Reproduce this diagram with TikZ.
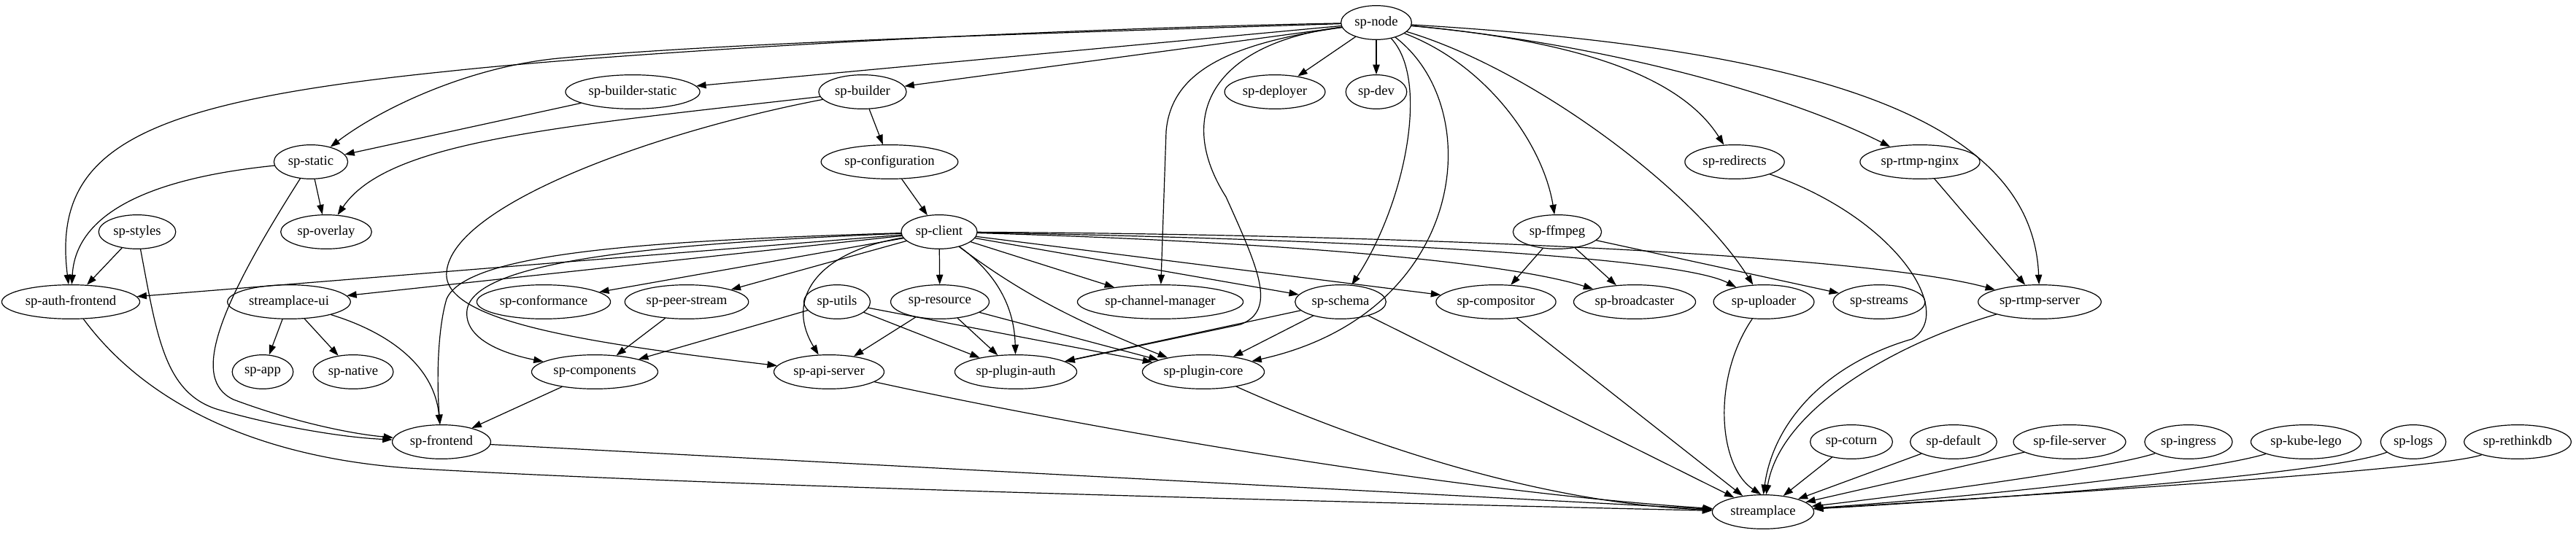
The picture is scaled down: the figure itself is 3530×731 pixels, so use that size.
\documentclass[tikz,border=0pt]{standalone}
\usepackage{fontspec}
\setmainfont{Liberation Serif}
\usetikzlibrary{arrows.meta,shapes.geometric}

\begin{document}
\begin{tikzpicture}[x=.75pt,y=-.75pt,line cap=round,line join=round,
  pkg/.style={draw,ellipse,line width=.9pt,inner xsep=3.5pt,minimum height=35pt,font=\fontsize{14}{16}\selectfont},
  dep/.style={line width=.9pt,-{Triangle[length=10pt,width=7pt]}}]
  \useasboundingbox (0,0) rectangle (3530,731);
  \node[pkg] (spnode) at (1886,31) {sp-node};
  \node[pkg] (builderstatic) at (867,126) {sp-builder-static}; \node[pkg] (builder) at (1182,126) {sp-builder};
  \node[pkg] (deployer) at (1747,126) {sp-deployer}; \node[pkg] (dev) at (1886,126) {sp-dev};
  \node[pkg] (static) at (426,222) {sp-static}; \node[pkg] (config) at (1219,222) {sp-configuration};
  \node[pkg] (redirects) at (2377,222) {sp-redirects}; \node[pkg] (nginx) at (2631,222) {sp-rtmp-nginx};
  \node[pkg] (styles) at (188,318) {sp-styles}; \node[pkg] (overlay) at (447,318) {sp-overlay};
  \node[pkg] (client) at (1287,318) {sp-client}; \node[pkg] (ffmpeg) at (2134,318) {sp-ffmpeg};
  \node[pkg] (authfe) at (97,414) {sp-auth-frontend}; \node[pkg] (ui) at (396,414) {streamplace-ui};
  \node[pkg] (conformance) at (745,414) {sp-conformance}; \node[pkg] (peer) at (941,414) {sp-peer-stream};
  \node[pkg] (utils) at (1147,414) {sp-utils}; \node[pkg] (resource) at (1288,414) {sp-resource};
  \node[pkg] (chanmgr) at (1590,414) {sp-channel-manager}; \node[pkg] (schema) at (1837,414) {sp-schema};
  \node[pkg] (compositor) at (2050,414) {sp-compositor}; \node[pkg] (broadcaster) at (2240,414) {sp-broadcaster};
  \node[pkg] (uploader) at (2417,414) {sp-uploader}; \node[pkg] (streams) at (2575,414) {sp-streams};
  \node[pkg] (rtmp) at (2795,414) {sp-rtmp-server};
  \node[pkg] (app) at (360,510) {sp-app}; \node[pkg] (native) at (484,510) {sp-native};
  \node[pkg] (components) at (815,510) {sp-components}; \node[pkg] (api) at (1136,510) {sp-api-server};
  \node[pkg] (pauth) at (1392,510) {sp-plugin-auth}; \node[pkg] (pcore) at (1649,510) {sp-plugin-core};
  \node[pkg] (frontend) at (605,606) {sp-frontend};
  \node[pkg] (coturn) at (2537,606) {sp-coturn}; \node[pkg] (defaults) at (2677,606) {sp-default};
  \node[pkg] (files) at (2836,606) {sp-file-server}; \node[pkg] (ingress) at (2999,606) {sp-ingress};
  \node[pkg] (kube) at (3160,606) {sp-kube-lego}; \node[pkg] (logs) at (3307,606) {sp-logs};
  \node[pkg] (rethink) at (3450,606) {sp-rethinkdb};
  \node[pkg] (streamplace) at (2416,702) {streamplace};

  \draw[dep] (spnode) .. controls (1400,40) and (850,72) .. (612,98) .. controls (200,140) and (70,200) .. (authfe);
  \draw[dep] (spnode) .. controls (1450,45) and (1000,58) .. (765,80) .. controls (640,92) and (520,150) .. (static);
  \draw[dep] (spnode) -- (builderstatic); \draw[dep] (spnode) -- (builder);
  \draw[dep] (spnode) -- (deployer); \draw[dep] (spnode) -- (dev);
  \draw[dep] (spnode) .. controls (1680,60) and (1605,100) .. (1598,180) -- (chanmgr);
  \draw[dep] (spnode) .. controls (1660,60) and (1610,160) .. (1680,270) .. controls (1725,370) and (1750,425) .. (1700,445) -- (pauth);
  \draw[dep] (spnode) .. controls (1960,110) and (1925,280) .. (schema);
  \draw[dep] (spnode) .. controls (2040,150) and (2010,430) .. (pcore);
  \draw[dep] (spnode) .. controls (2040,90) and (2115,200) .. (ffmpeg);
  \draw[dep] (spnode) .. controls (2100,95) and (2320,260) .. (uploader);
  \draw[dep] (spnode) .. controls (2150,55) and (2300,100) .. (redirects);
  \draw[dep] (spnode) .. controls (2200,60) and (2450,130) .. (nginx);
  \draw[dep] (spnode) .. controls (2450,65) and (2785,150) .. (rtmp);

  \draw[dep] (builderstatic) -- (static); \draw[dep] (builder) -- (config);
  \draw[dep] (builder) .. controls (750,175) and (530,195) .. (overlay);
  \draw[dep] (builder) .. controls (900,180) and (620,280) .. (612,373) .. controls (605,440) and (800,470) .. (api);
  \draw[dep] (static) -- (overlay);
  \draw[dep] (static) .. controls (250,240) and (105,275) .. (authfe);
  \draw[dep] (static) .. controls (300,420) and (260,520) .. (320,548) .. controls (400,578) and (480,595) .. (frontend);
  \draw[dep] (styles) -- (authfe);
  \draw[dep] (styles) .. controls (215,460) and (225,540) .. (300,562) .. controls (380,585) and (470,600) .. (frontend);
  \draw[dep] (config) -- (client);

  \draw[dep] (client) -- (authfe); \draw[dep] (client) -- (ui);
  \draw[dep] (client) -- (conformance); \draw[dep] (client) -- (peer);
  \draw[dep] (client) .. controls (900,330) and (640,345) .. (612,410) .. controls (600,450) and (598,520) .. (frontend);
  \draw[dep] (client) .. controls (880,335) and (650,360) .. (640,425) .. controls (635,465) and (690,485) .. (components);
  \draw[dep] (client) .. controls (1120,345) and (1075,410) .. (api);
  \draw[dep] (client) -- (resource);
  \draw[dep] (client) .. controls (1365,375) and (1390,420) .. (pauth);
  \draw[dep] (client) .. controls (1390,395) and (1460,435) .. (pcore);
  \draw[dep] (client) -- (chanmgr); \draw[dep] (client) -- (schema); \draw[dep] (client) -- (compositor);
  \draw[dep] (client) .. controls (1700,330) and (2050,355) .. (broadcaster);
  \draw[dep] (client) .. controls (1850,328) and (2300,352) .. (uploader);
  \draw[dep] (client) .. controls (1950,322) and (2560,350) .. (rtmp);

  \draw[dep] (ui) -- (app); \draw[dep] (ui) -- (native);
  \draw[dep] (ui) .. controls (530,455) and (595,500) .. (frontend);
  \draw[dep] (peer) -- (components); \draw[dep] (components) -- (frontend);
  \draw[dep] (utils) -- (components); \draw[dep] (utils) -- (pauth); \draw[dep] (utils) -- (pcore);
  \draw[dep] (resource) -- (api); \draw[dep] (resource) -- (pauth); \draw[dep] (resource) -- (pcore);
  \draw[dep] (schema) -- (pauth); \draw[dep] (schema) -- (pcore); \draw[dep] (schema) -- (streamplace);
  \draw[dep] (ffmpeg) -- (compositor); \draw[dep] (ffmpeg) -- (broadcaster); \draw[dep] (ffmpeg) -- (streams);
  \draw[dep] (compositor) -- (streamplace); \draw[dep] (nginx) -- (rtmp);

  \draw[dep] (authfe) .. controls (190,540) and (330,625) .. (560,642) .. controls (1000,668) and (1900,690) .. (streamplace);
  \draw[dep] (frontend) -- (streamplace);
  \draw[dep] (api) .. controls (1500,590) and (2000,675) .. (streamplace);
  \draw[dep] (pcore) .. controls (1850,600) and (2100,690) .. (streamplace);
  \draw[dep] (uploader) .. controls (2345,520) and (2355,640) .. (streamplace.97);
  \draw[dep] (redirects) .. controls (2600,300) and (2680,430) .. (2620,465) .. controls (2500,500) and (2430,580) .. (streamplace.89);
  \draw[dep] (rtmp) .. controls (2600,470) and (2440,560) .. (streamplace.80);
  \draw[dep] (coturn) -- (streamplace); \draw[dep] (defaults) -- (streamplace); \draw[dep] (files) -- (streamplace);
  \draw[dep] (ingress) .. controls (2900,640) and (2650,675) .. (streamplace);
  \draw[dep] (kube) .. controls (3030,645) and (2750,678) .. (streamplace);
  \draw[dep] (logs) .. controls (3200,648) and (2800,680) .. (streamplace);
  \draw[dep] (rethink) .. controls (3350,642) and (2900,672) .. (streamplace);
\end{tikzpicture}
\end{document}
